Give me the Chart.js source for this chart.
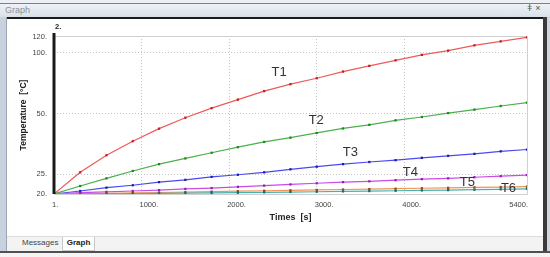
<!DOCTYPE html>
<html><head><meta charset="utf-8">
<script src="https://cdn.jsdelivr.net/npm/chart.js@4/dist/chart.umd.min.js"></script>
<style>
html,body{margin:0;padding:0;width:550px;height:257px;overflow:hidden;background:#eceff3;font-family:"Liberation Sans",Arial,sans-serif}
#topline{position:absolute;left:0;top:3px;width:550px;height:1px;background:#7c8088}
#titlebar{position:absolute;left:0;top:4px;width:550px;height:13px;background:linear-gradient(#eef2f7,#d9e0e8)}
#titlebar span{position:absolute;left:5px;top:1px;font-size:9px;color:#8a929c}
#icons{position:absolute;left:527px;top:3px;font-size:9px;color:#555;letter-spacing:3px}
#leftstrip{position:absolute;left:0;top:17px;width:6px;height:236px;background:#c8d2de}
#leftline{position:absolute;left:6px;top:17px;width:1px;height:236px;background:#9aa6b4}
#blackline{position:absolute;left:7px;top:17px;width:540px;height:2px;background:#1a1a1a}
#rightline{position:absolute;left:543px;top:17px;width:4px;height:236px;background:#3a3a3a}
#rightout{position:absolute;left:547px;top:17px;width:3px;height:236px;background:#d0d6de}
#panel{position:absolute;left:7px;top:19px;width:536px;height:217px;background:#fff}
#tabs{position:absolute;left:7px;top:236px;width:536px;height:15px;background:#f3f3f3;border-top:1px solid #dcdcdc;box-sizing:border-box}
#tab1{position:absolute;left:15px;top:1px;font-size:8px;color:#444}
#tab2{position:absolute;left:55px;top:0px;width:31px;height:13px;background:#fff;border:1px solid #c8c8c8;border-top:none;font-size:8px;font-weight:bold;color:#222;text-align:center;line-height:12px}
#bottomline{position:absolute;left:0;top:251px;width:550px;height:2px;background:#505050}
#bottomout{position:absolute;left:0;top:253px;width:550px;height:4px;background:#f4f4f4}
#wrap{position:absolute;left:7px;top:19px;width:536px;height:217px}
canvas{display:block}
</style></head>
<body>
<div id="topline"></div>
<div id="titlebar"><span>Graph</span></div>
<div id="icons">ǂ×</div>
<div id="leftstrip"></div><div id="leftline"></div>
<div id="blackline"></div>
<div id="rightline"></div><div id="rightout"></div>
<div id="panel"></div>
<div id="tabs"><span id="tab1">Messages</span><div id="tab2">Graph</div></div>
<div id="bottomline"></div><div id="bottomout"></div>
<div id="wrap"><canvas id="c" width="536" height="217"></canvas></div>
<script>
// ---- data ----
const times = [1,300,600,900,1200,1500,1800,2100,2400,2700,3000,3300,3600,3900,4200,4500,4800,5100,5400];
const T1 = [20,25.6,31.1,36.5,42.1,47.7,53.2,58.6,64.6,69.9,74.8,80.7,86.1,91.7,97.6,102.4,108.8,113.8,119.1];
const T2 = [20,21.9,23.9,26.0,28.1,30.0,32.0,34.1,36.2,38.0,40.1,42.2,44.0,46.3,48.1,50.3,52.3,54.5,56.6];
const T3 = [20,20.7,21.5,22.1,22.9,23.5,24.3,24.9,25.6,26.5,27.3,28.1,28.8,29.4,30.2,30.9,31.6,32.5,33.2];
const T4 = [20,20.3,20.5,20.7,20.9,21.2,21.4,21.7,22.0,22.3,22.6,22.9,23.1,23.4,23.7,23.9,24.2,24.5,24.8];
const T5 = [20,20.05,20.15,20.25,20.35,20.45,20.55,20.65,20.75,20.85,20.95,21.05,21.15,21.25,21.35,21.45,21.55,21.65,21.75];
const T6 = [20,20.02,20.06,20.1,20.15,20.2,20.25,20.3,20.38,20.45,20.52,20.6,20.68,20.75,20.83,20.9,21.0,21.1,21.2];
const seriesNames = ["T1","T2","T3","T4","T5","T6"];
const xTicks = [1,1000,2000,3000,4000,5400];
const yTicks = [20,25,50,100,120];
const labelTimes = [2571,2994,3383,4069,4720,5189];
const labelTemps = [79.8,46.3,32.2,25.7,22.9,21.4];
const xTitle = "Times  [s]";
const yTitle = "Temperature  [°C]";
const topNote = "2.";

const lineColors = ["#ee5a5a","#4cb04c","#4a4aee","#c84ae8","#ee9458","#48b0b0"];
const markColors = ["#cc1a1a","#1a8a1a","#1a1ac0","#9a1ac0","#8a4a20","#1e6a6a"];
const all = [T1,T2,T3,T4,T5,T6];
const datasets = all.map((arr,i)=>({
  label: seriesNames[i],
  data: arr.map((v,j)=>({x:times[j],y:v})),
  borderColor: lineColors[i],
  borderWidth: 1.2,
  pointStyle: 'rect',
  pointRadius: 1.6,
  pointBorderWidth: 0,
  pointBackgroundColor: markColors[i],
  pointBorderColor: markColors[i],
  tension: 0
})).reverse();

const FONT = '"Liberation Sans", Arial, sans-serif';
const decor = {
  id:'decor',
  beforeDatasetsDraw(chart){
    const {ctx, chartArea:a} = chart;
    ctx.save();
    ctx.strokeStyle = '#cfcfcf'; ctx.lineWidth = 1;
    ctx.beginPath();
    ctx.moveTo(a.left, a.top+0.5); ctx.lineTo(a.right+0.5, a.top+0.5);
    ctx.lineTo(a.right+0.5, a.bottom+0.5); ctx.lineTo(a.left, a.bottom+0.5);
    ctx.stroke();
    ctx.restore();
  },
  afterDatasetsDraw(chart){
    const {ctx, chartArea:a, scales} = chart;
    ctx.save();
    ctx.fillStyle = '#1a1a1a';
    ctx.fillRect(a.left-1.5, a.top-3, 3, a.bottom - a.top + 3);
    ctx.font = 'bold 7.5px ' + FONT; ctx.fillStyle = '#222';
    ctx.textAlign = 'left'; ctx.textBaseline = 'middle';
    ctx.fillText(topNote, a.left+1, a.top-9);
    ctx.font = '7.5px ' + FONT; ctx.fillStyle = '#444';
    const xs = scales.x;
    xs.ticks.forEach((t,i)=>{
      const px = xs.getPixelForValue(t.value);
      const last = i === xs.ticks.length-1;
      ctx.textAlign = last ? 'right' : 'left';
      ctx.fillText(t.value + '.', last ? px+1 : px-2, a.bottom + 11);
    });
    ctx.font = '13px ' + FONT; ctx.fillStyle = '#333';
    ctx.textAlign = 'center';
    labelTimes.forEach((t,i)=>{
      ctx.fillText(seriesNames[i], xs.getPixelForValue(t), scales.y.getPixelForValue(labelTemps[i]));
    });
    ctx.restore();
  }
};

new Chart(document.getElementById('c'), {
  type:'line',
  data:{datasets},
  options:{
    responsive:false, animation:false,
    layout:{padding:{left:0,right:16,top:17,bottom:0}},
    plugins:{legend:{display:false},tooltip:{enabled:false}},
    scales:{
      x:{
        type:'linear', min:1, max:5400,
        afterBuildTicks(s){ s.ticks = xTicks.map(v=>({value:v})); },
        afterFit(s){ s.height = 42; },
        ticks:{display:false},
        grid:{drawTicks:false, tickLength:0, lineWidth:1,
          color:(c)=> (c.tick && (c.tick.value===1 || c.tick.value===5400)) ? 'rgba(0,0,0,0)' : '#c4c4c4'},
        border:{display:false, dash:[1,2]},
        title:{display:true, text:xTitle, color:'#222', font:{family:FONT, size:9, weight:'bold'}, padding:{top:12.6,bottom:12.6}}
      },
      y:{
        type:'logarithmic', min:20, max:121,
        afterBuildTicks(s){ s.ticks = yTicks.map(v=>({value:v})); },
        afterFit(s){ s.width = 47; },
        ticks:{padding:7, color:'#444', font:{family:FONT, size:7.5}, callback:(v)=> v + '.'},
        grid:{drawTicks:false, tickLength:0, lineWidth:1,
          color:(c)=> (c.tick && (c.tick.value===20 || c.tick.value===120)) ? 'rgba(0,0,0,0)' : '#c4c4c4'},
        border:{display:false, dash:[1,2]},
        title:{display:true, text:yTitle, color:'#222', font:{family:FONT, size:8.5, weight:'bold'}, padding:{top:12,bottom:12}}
      }
    }
  },
  plugins:[decor]
});
</script>
</body></html>
